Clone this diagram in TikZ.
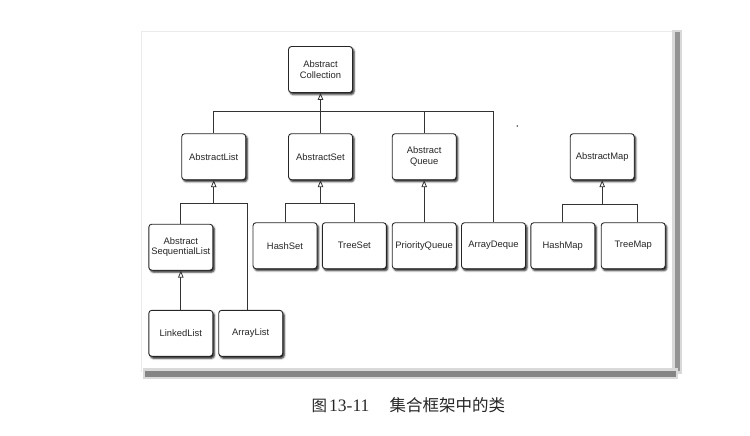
\documentclass[tikz,border=0pt]{standalone}
\usepackage{fontspec}
\setmainfont{Liberation Sans}
\newfontfamily\cjkfont{Noto Sans CJK SC}
\newfontfamily\capserif{Liberation Serif}
\usetikzlibrary{arrows.meta,shadows.blur}

\begin{document}
\begin{tikzpicture}[x=1pt,y=-1pt,
  cls/.style={draw=black!85, line width=0.9pt, fill=white, rounded corners=3pt,
    minimum width=64pt, minimum height=46pt, inner sep=1pt, align=center,
    font=\fontsize{9.4}{10.6}\selectfont, text=black!85,
    blur shadow={shadow xshift=1.6pt, shadow yshift=-2pt,
      shadow blur radius=1.8pt, shadow opacity=90}},
  link/.style={draw=black!80, line width=0.8pt},
  inherit/.style={link, -{Triangle[open, length=7pt, width=5.5pt, line width=0.8pt]}},
  captext/.style={anchor=base west, inner sep=0pt, text=black!85},
]
\useasboundingbox (0,0) rectangle (750,436);

% page panel with its shadow on the right and at the bottom
\draw[black!8, line width=0.6pt] (141,372) -- (141,31) -- (673,31);
\fill[black!15] (672,30) rectangle (682,374);
\fill[black!42] (674.5,32) rectangle (680,371);
\fill[black!15] (143,368) rectangle (678,379);
\fill[black!48] (145,370.5) rectangle (676,376.5);

% classes
\node[cls] (coll)    at (320.5,69.5)  {Abstract\\Collection};
\node[cls] (alist)   at (213.7,156.7) {AbstractList};
\node[cls] (aset)    at (320.5,156.7) {AbstractSet};
\node[cls] (aqueue)  at (424.2,156.7) {Abstract\\Queue};
\node[cls] (amap)    at (602.2,156.7) {AbstractMap};
\node[cls] (aseq)    at (180.8,247.2) {Abstract\\SequentialList};
\node[cls] (hashset) at (285,245.7)   {HashSet};
\node[cls] (treeset) at (354.3,245.7) {TreeSet};
\node[cls] (pqueue)  at (424.2,245.7) {PriorityQueue};
\node[cls] (adeque)  at (493.5,245.7) {ArrayDeque};
\node[cls] (hashmap) at (562.8,245.7) {HashMap};
\node[cls] (treemap) at (633.2,245.7) {TreeMap};
\node[cls] (linked)  at (180.8,333.3) {LinkedList};
\node[cls] (alist2)  at (250.7,333.3) {ArrayList};

% bus levels of the inheritance brackets
\coordinate (bus)  at (0,111);
\coordinate (lbus) at (0,203);
\coordinate (sbus) at (0,203.5);
\coordinate (mbus) at (0,204);
\coordinate (altop) at ([xshift=-3pt]alist2.north);
\coordinate (tmtop) at ([xshift=4pt]treemap.north);

% AbstractCollection and its subclasses
\draw[inherit] (aset.north) -- (coll.south);
\draw[link] (alist.north) |- (adeque.north |- bus) -- (adeque.north);
\draw[link] (aqueue.north) -- (aqueue.north |- bus);

% AbstractList
\draw[inherit] (alist.south |- lbus) -- (alist.south);
\draw[link] (aseq.north) |- (altop |- lbus) -- (altop);
\draw[inherit] (linked.north) -- (aseq.south);

% AbstractSet
\draw[inherit] (aset.south |- sbus) -- (aset.south);
\draw[link] (hashset.north) |- (treeset.north |- sbus) -- (treeset.north);

% AbstractQueue
\draw[inherit] (pqueue.north) -- (aqueue.south);

% AbstractMap
\draw[inherit] (amap.south |- mbus) -- (amap.south);
\draw[link] (hashmap.north) |- (tmtop |- mbus) -- (tmtop);

% speck
\fill[black!70] (517.3,126) circle (0.9);

% caption
\node[captext, font=\cjkfont\fontsize{15.5}{18}\selectfont] (capfig) at (311.5,411.5) {图};
\node[captext, font=\capserif\fontsize{17.5}{18}\selectfont] (capnum) at (329,411.5) {13-11};
\node[captext, font=\cjkfont\fontsize{16.5}{18}\selectfont] (capname) at (389.5,411.5) {集合框架中的类};
\end{tikzpicture}
\end{document}
